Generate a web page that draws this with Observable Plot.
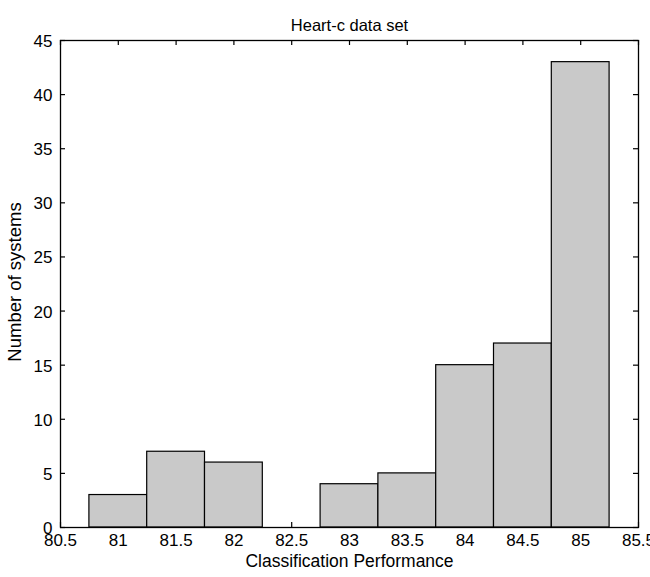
<!DOCTYPE html>
<html>
<head>
<meta charset="utf-8">
<script src="https://cdn.jsdelivr.net/npm/d3@7"></script>
<script src="https://cdn.jsdelivr.net/npm/@observablehq/plot@0.6"></script>
<style>
  html, body { margin: 0; padding: 0; background: #fff; }
  #chart svg { display: block; }
</style>
</head>
<body>
<div id="chart"></div>
<script>
// Histogram bins (left edge, right edge) and counts
const binStart = [80.75, 81.25, 81.75, 82.25, 82.75, 83.25, 83.75, 84.25, 84.75];
const binEnd   = [81.25, 81.75, 82.25, 82.75, 83.25, 83.75, 84.25, 84.75, 85.25];
const counts   = [3, 7, 6, 0, 4, 5, 15, 17, 43];
const xTicks = [80.5, 81, 81.5, 82, 82.5, 83, 83.5, 84, 84.5, 85, 85.5];
const yTicks = [0, 5, 10, 15, 20, 25, 30, 35, 40, 45];
const title = "Heart-c data set";
const xLabel = "Classification Performance";
const yLabel = "Number of systems";

const W = 650, H = 577;
const mL = 60, mR = 12, mT = 40, mB = 50;
const plotW = W - mL - mR, plotH = H - mT - mB;
const tickLen = 5;
const font = "'Liberation Sans', Arial, sans-serif";

const bars = binStart.map((s, i) => ({x1: s, x2: binEnd[i], y: counts[i]}));

const chart = Plot.plot({
  width: W,
  height: H,
  marginLeft: mL,
  marginRight: mR,
  marginTop: mT,
  marginBottom: mB,
  style: {fontFamily: font, fontSize: "17px", color: "#000", background: "#fff"},
  x: {domain: [80.5, 85.5]},
  y: {domain: [0, 45]},
  marks: [
    // inward ticks on all four sides
    Plot.tickX(xTicks, {x: d => d, insetTop: plotH - tickLen, stroke: "#000", strokeWidth: 1.2}),
    Plot.tickX(xTicks, {x: d => d, insetBottom: plotH - tickLen, stroke: "#000", strokeWidth: 1.2}),
    Plot.tickY(yTicks, {y: d => d, insetRight: plotW - tickLen, stroke: "#000", strokeWidth: 1.2}),
    Plot.tickY(yTicks, {y: d => d, insetLeft: plotW - tickLen, stroke: "#000", strokeWidth: 1.2}),
    Plot.rectY(bars, {x1: "x1", x2: "x2", y: "y", fill: "#c9c9c9", stroke: "#000", strokeWidth: 1.2}),
    Plot.frame({stroke: "#000", strokeWidth: 1.3}),
    Plot.axisX(xTicks, {anchor: "bottom", tickSize: 0, tickPadding: 6, label: null, fontSize: 17, tickFormat: d => String(d)}),
    Plot.axisY(yTicks, {anchor: "left", tickSize: 0, tickPadding: 8, dy: 1, label: null, fontSize: 17, tickFormat: d => String(d)}),
    Plot.text([title], {text: d => d, frameAnchor: "top", dy: -21, fontSize: 16.5}),
    Plot.text([xLabel], {text: d => d, frameAnchor: "bottom", dy: 39, fontSize: 17.5}),
    Plot.text([yLabel], {text: d => d, frameAnchor: "left", textAnchor: "middle", dx: -45, dy: -2, rotate: -90, fontSize: 18.5})
  ]
});
document.getElementById("chart").appendChild(chart);
</script>
</body>
</html>
